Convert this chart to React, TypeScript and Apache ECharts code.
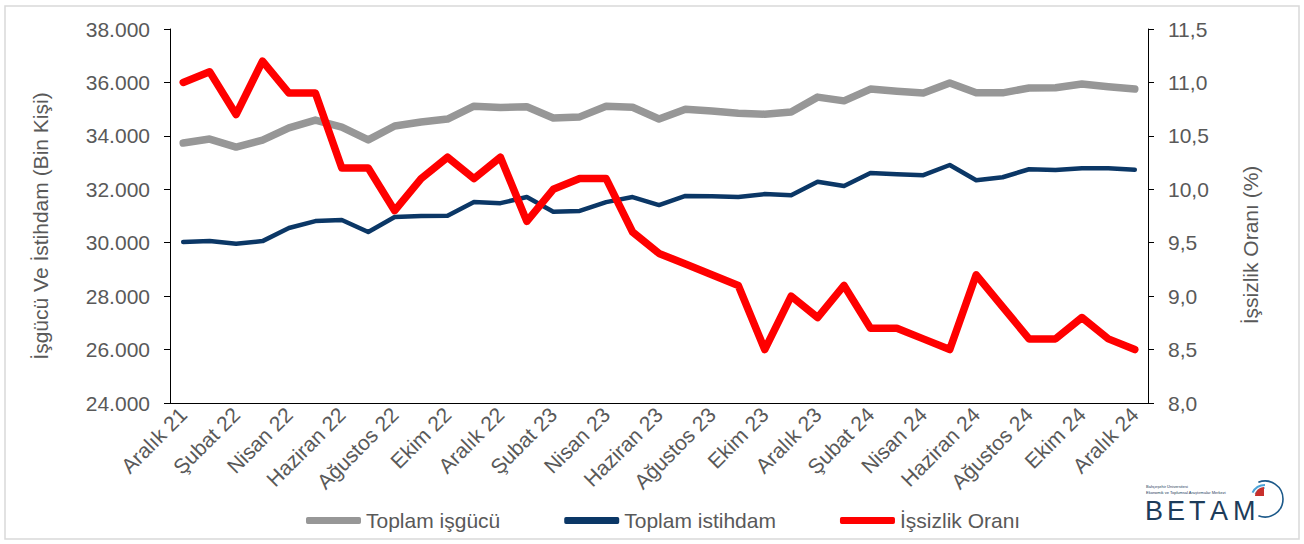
import React, { useEffect, useRef } from "react";
import * as echarts from "echarts";

const months: string[] = [
  "Aralık 21", "Ocak 22", "Şubat 22", "Mart 22", "Nisan 22", "Mayıs 22", "Haziran 22", "Temmuz 22",
  "Ağustos 22", "Eylül 22", "Ekim 22", "Kasım 22", "Aralık 22", "Ocak 23", "Şubat 23", "Mart 23",
  "Nisan 23", "Mayıs 23", "Haziran 23", "Temmuz 23", "Ağustos 23", "Eylül 23", "Ekim 23", "Kasım 23",
  "Aralık 23", "Ocak 24", "Şubat 24", "Mart 24", "Nisan 24", "Mayıs 24", "Haziran 24", "Temmuz 24",
  "Ağustos 24", "Eylül 24", "Ekim 24", "Kasım 24", "Aralık 24",
];

const laborForce: number[] = [
  33730, 33880, 33580, 33840, 34300, 34590, 34330, 33850, 34370, 34520, 34630, 35110, 35060,
  35090, 34670, 34710, 35110, 35070, 34630, 35000, 34930, 34850, 34810, 34890, 35450, 35310,
  35750, 35670, 35600, 35980, 35610, 35610, 35790, 35800, 35940, 35840, 35750,
];

const employment: number[] = [
  30030, 30060, 29960, 30060, 30550, 30810, 30850, 30400, 30960, 31000, 31010, 31520, 31480,
  31710, 31160, 31190, 31520, 31710, 31410, 31750, 31740, 31710, 31820, 31780, 32280, 32120,
  32610, 32560, 32530, 32910, 32340, 32450, 32750, 32720, 32790, 32790, 32730,
];

const unemploymentRate: number[] = [
  11.0, 11.1, 10.7, 11.2, 10.9, 10.9, 10.2, 10.2, 9.8, 10.1, 10.3, 10.1, 10.3,
  9.7, 10.0, 10.1, 10.1, 9.6, 9.4, 9.3, 9.2, 9.1, 8.5, 9.0, 8.8, 9.1,
  8.7, 8.7, 8.6, 8.5, 9.2, 8.9, 8.6, 8.6, 8.8, 8.6, 8.5,
];

const seriesNames: string[] = ["Toplam işgücü", "Toplam istihdam", "İşsizlik Oranı"];
const leftAxisName = "İşgücü Ve İstihdam (Bin Kişi)";
const rightAxisName = "İşsizlik Oranı (%)";

const TXT = "#595959";
const FONT = "'Liberation Sans', Arial, sans-serif";

const fmtThousands = (v: number) => {
  const s = Math.round(v).toString();
  return s.replace(/\B(?=(\d{3})+(?!\d))/g, ".");
};
const fmtRate = (v: number) => v.toFixed(1).replace(".", ",");

export default function App() {
  const ref = useRef<HTMLDivElement>(null);

  useEffect(() => {
    if (!ref.current) return;
    const chart = echarts.init(ref.current, undefined, { renderer: "svg" });

    const betamLetters = ["B", "E", "T", "A", "M"];
    const letterX = [1145, 1167, 1189, 1210, 1233];

    chart.setOption({
      animation: false,
      textStyle: { fontFamily: FONT },
      grid: { left: 170, right: 156, top: 29, bottom: 141, containLabel: false },
      legend: {
        data: seriesNames,
        left: 301,
        top: 505,
        icon: "roundRect",
        itemWidth: 55,
        itemHeight: 7,
        itemGap: 64,
        textStyle: { color: TXT, fontSize: 21, fontFamily: FONT },
      },
      xAxis: {
        type: "category",
        data: months,
        boundaryGap: true,
        axisLine: { lineStyle: { color: "#000", width: 1 } },
        axisTick: { interval: 1, length: 6, lineStyle: { color: "#000" } },
        axisLabel: {
          interval: 1,
          rotate: 45,
          color: TXT,
          fontSize: 21,
          fontFamily: FONT,
          margin: 8,
        },
        splitLine: { show: false },
      },
      yAxis: [
        {
          type: "value",
          min: 24000,
          max: 38000,
          interval: 2000,
          position: "left",
          name: leftAxisName,
          nameLocation: "middle",
          nameGap: 119,
          nameTextStyle: { color: TXT, fontSize: 21, fontFamily: FONT, padding: [0, 20, 0, 0] },
          axisLine: { show: true, lineStyle: { color: "#000", width: 1 } },
          axisTick: { show: true, length: 6, lineStyle: { color: "#000" } },
          axisLabel: { color: TXT, fontSize: 21, fontFamily: FONT, margin: 20, formatter: fmtThousands },
          splitLine: { show: false },
        },
        {
          type: "value",
          min: 8,
          max: 11.5,
          interval: 0.5,
          position: "right",
          name: rightAxisName,
          nameLocation: "middle",
          nameGap: 92,
          nameTextStyle: { color: TXT, fontSize: 21, fontFamily: FONT, padding: [0, 58, 0, 0] },
          axisLine: { show: true, lineStyle: { color: "#000", width: 1 } },
          axisTick: { show: true, length: 6, lineStyle: { color: "#000" } },
          axisLabel: { color: TXT, fontSize: 21, fontFamily: FONT, margin: 20, formatter: fmtRate },
          splitLine: { show: false },
        },
      ],
      series: [
        {
          name: seriesNames[0],
          type: "line",
          yAxisIndex: 0,
          data: laborForce,
          symbol: "none",
          lineStyle: { color: "#979797", width: 7.5, cap: "round", join: "round" },
          itemStyle: { color: "#979797" },
          z: 2,
        },
        {
          name: seriesNames[1],
          type: "line",
          yAxisIndex: 0,
          data: employment,
          symbol: "none",
          lineStyle: { color: "#0b3766", width: 4.5, cap: "round", join: "round" },
          itemStyle: { color: "#0b3766" },
          z: 3,
        },
        {
          name: seriesNames[2],
          type: "line",
          yAxisIndex: 1,
          data: unemploymentRate,
          symbol: "none",
          lineStyle: { color: "#ff0000", width: 7.5, cap: "round", join: "round" },
          itemStyle: { color: "#ff0000" },
          z: 4,
        },
      ],
      graphic: [
        {
          type: "rect",
          shape: { x: 5, y: 6, width: 1294, height: 533 },
          style: { fill: "none", stroke: "#d9d9d9", lineWidth: 1.5 },
          silent: true,
          z: -1,
        },
        {
          type: "group",
          silent: true,
          children: [
            {
              type: "text",
              x: 1146,
              y: 484,
              style: { text: "Bahçeşehir Üniversitesi", fontSize: 4, fill: "#1d3c5a", fontFamily: FONT },
            },
            {
              type: "text",
              x: 1146,
              y: 490,
              style: {
                text: "Ekonomik ve Toplumsal Araştırmalar Merkezi",
                fontSize: 4,
                fill: "#1d3c5a",
                fontFamily: FONT,
              },
            },
            ...betamLetters.map((l, i) => ({
              type: "text",
              x: letterX[i],
              y: 497,
              style: { text: l, fontSize: 27, fill: "#1d3c5a", fontFamily: FONT },
            })),
            {
              type: "arc",
              shape: { cx: 1265, cy: 499, r: 18, startAngle: -Math.PI * 0.62, endAngle: Math.PI * 0.62, clockwise: true },
              style: { stroke: "#1d5a8a", lineWidth: 1.6, fill: "none" },
            },
            {
              type: "arc",
              shape: { cx: 1265, cy: 499, r: 14, startAngle: -Math.PI * 0.85, endAngle: -Math.PI * 0.5, clockwise: true },
              style: { stroke: "#4aa3d8", lineWidth: 2, fill: "none" },
            },
            {
              type: "arc",
              shape: { cx: 1265, cy: 499, r: 11, startAngle: -Math.PI * 0.85, endAngle: -Math.PI * 0.5, clockwise: true },
              style: { stroke: "#7cc0e8", lineWidth: 1.5, fill: "none" },
            },
            {
              type: "sector",
              shape: { cx: 1264, cy: 496, r0: 0, r: 9, startAngle: -Math.PI, endAngle: -Math.PI * 0.5, clockwise: true },
              style: { fill: "#c8302c" },
            },
          ],
        },
      ],
    });

    return () => chart.dispose();
  }, []);

  return (
    <div
      ref={ref}
      style={{ position: "absolute", left: 0, top: 0, width: 1304, height: 544, background: "#fff" }}
    />
  );
}
